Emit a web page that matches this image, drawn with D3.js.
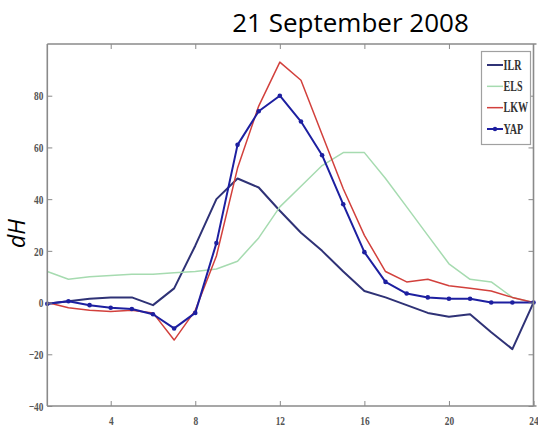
<!DOCTYPE html>
<html>
<head>
<meta charset="utf-8">
<script src="https://cdn.jsdelivr.net/npm/d3@7"></script>
<style>
  html, body { margin: 0; padding: 0; background: #fff; }
  svg { display: block; }
</style>
</head>
<body>
<svg id="chart" width="538" height="427"></svg>
<script>
// ---- data ----
const hours = d3.range(1, 25);
const ILR = [-0.5, 0.5, 1.5, 2, 2, -1, 5.5, 22, 40, 48, 44.5, 35.5, 27, 20, 12, 4.5, 2, -1, -4, -5.5, -4.5, -11.5, -18, 0];
const ELS = [12, 9, 10, 10.5, 11, 11, 11.5, 12, 13, 16, 25, 37, 45, 53, 58, 58, 48, 37, 26, 15, 9, 8, 2, 0];
const LKW = [0, -2, -3, -3.5, -3, -4, -14.5, -3, 18, 52, 76, 93, 86, 65, 44, 26, 12, 8, 9, 6.5, 5.5, 4.5, 2, 0];
const YAP = [-0.5, 0.5, -1, -2, -2.5, -4.5, -10, -4, 23, 61, 74, 80, 70, 57, 38, 19.5, 8, 3.5, 2, 1.5, 1.5, 0, 0, 0];
const xTicks = [4, 8, 12, 16, 20, 24];
const yTicks = [-40, -20, 0, 20, 40, 60, 80];
const seriesNames = ["ILR", "ELS", "LKW", "YAP"];
const title = "21 September 2008";
const yLabel = "dH";

const series = [
  { name: "ILR", values: ILR, color: "#2f3276", width: 2, marker: false },
  { name: "ELS", values: ELS, color: "#a6dbb0", width: 1.5, marker: false },
  { name: "LKW", values: LKW, color: "#d2403c", width: 1.5, marker: false },
  { name: "YAP", values: YAP, color: "#1d1fa0", width: 2, marker: true }
];

// ---- layout ----
const svg = d3.select("#chart");
const L = 47.3, R = 533.5, T = 44, B = 406;
const x = d3.scaleLinear().domain([1, 24]).range([L, R]);
const y = d3.scaleLinear().domain([-40, 100]).range([B, T]);
const axisColor = "#8a8a8a";
const tickFont = "'Liberation Serif', serif";
const sx = 0.72;

// series lines
const line = d3.line().x((d, i) => x(hours[i])).y(d => y(d));
const plot = svg.append("g");
series.forEach(s => {
  plot.append("path")
    .datum(s.values)
    .attr("fill", "none")
    .attr("stroke", s.color)
    .attr("stroke-width", s.width)
    .attr("stroke-linejoin", "round")
    .attr("d", line);
  if (s.marker) {
    plot.selectAll(null).data(s.values).enter().append("circle")
      .attr("cx", (d, i) => x(hours[i]))
      .attr("cy", d => y(d))
      .attr("r", 2.3)
      .attr("fill", s.color);
  }
});

// axes (box with inward ticks)
const gBottom = svg.append("g").attr("transform", `translate(0,${B})`)
  .call(d3.axisBottom(x).tickValues(xTicks).tickSizeInner(-5).tickSizeOuter(0));
const gTop = svg.append("g").attr("transform", `translate(0,${T})`)
  .call(d3.axisTop(x).tickValues(xTicks.slice(0, 5)).tickSizeInner(-5).tickSizeOuter(0).tickFormat(""));
const gLeft = svg.append("g").attr("transform", `translate(${L},0)`)
  .call(d3.axisLeft(y).tickValues(yTicks).tickSizeInner(-5).tickSizeOuter(0));
const gRight = svg.append("g").attr("transform", `translate(${R},0)`)
  .call(d3.axisRight(y).tickValues(yTicks).tickSizeInner(-5).tickSizeOuter(0).tickFormat(""));

[gBottom, gTop, gLeft, gRight].forEach(g => {
  g.select(".domain").attr("stroke", axisColor).attr("stroke-width", 1.6);
  g.selectAll(".tick line").attr("stroke", axisColor).attr("stroke-width", 1);
  g.selectAll(".tick text")
    .attr("fill", "#555")
    .attr("font-family", tickFont)
    .attr("font-weight", "bold")
    .attr("font-size", 13);
});
gBottom.selectAll(".tick text").attr("y", 19).attr("dy", 0).attr("transform", `scale(${sx},1)`);
gLeft.selectAll(".tick text").attr("x", -4 / sx).attr("transform", `scale(${sx},1)`);

gLeft.select(".domain").attr("d", `M0,${B}V${T}`);
gBottom.select(".domain").attr("d", `M${L},0H${R + 3}`);
gTop.select(".domain").attr("d", `M${L},0H${R + 3}`);
gRight.select(".domain").attr("d", `M0,${T}V${B}`);

// title
svg.append("text")
  .attr("x", 350.5).attr("y", 32)
  .attr("text-anchor", "middle")
  .attr("font-family", "'Open Sans', sans-serif")
  .attr("font-size", 26)
  .attr("fill", "#000")
  .text(title);

// y label
svg.append("text")
  .attr("transform", `translate(25,233.5) rotate(-90)`)
  .attr("text-anchor", "middle")
  .attr("font-family", "'Open Sans', sans-serif")
  .attr("font-style", "italic")
  .attr("font-size", 23)
  .attr("fill", "#000")
  .text(yLabel);

// legend
const lg = svg.append("g");
lg.append("rect")
  .attr("x", 481.5).attr("y", 51.5).attr("width", 49).attr("height", 93)
  .attr("fill", "#fff").attr("stroke", "#a0a0a0").attr("stroke-width", 1.2);
const ly = d3.scalePoint().domain(seriesNames).range([65, 129]);
series.forEach(s => {
  const yy = ly(s.name);
  lg.append("line")
    .attr("x1", 487).attr("x2", 503).attr("y1", yy).attr("y2", yy)
    .attr("stroke", s.color).attr("stroke-width", s.width);
  if (s.marker) {
    lg.append("circle").attr("cx", 495).attr("cy", yy).attr("r", 2.2).attr("fill", s.color);
  }
  lg.append("text")
    .attr("transform", `translate(503.5,${yy + 4.5}) scale(0.72,1)`)
    .attr("font-family", tickFont)
    .attr("font-weight", "bold")
    .attr("font-size", 14)
    .attr("fill", "#333")
    .text(s.name);
});
</script>
</body>
</html>
